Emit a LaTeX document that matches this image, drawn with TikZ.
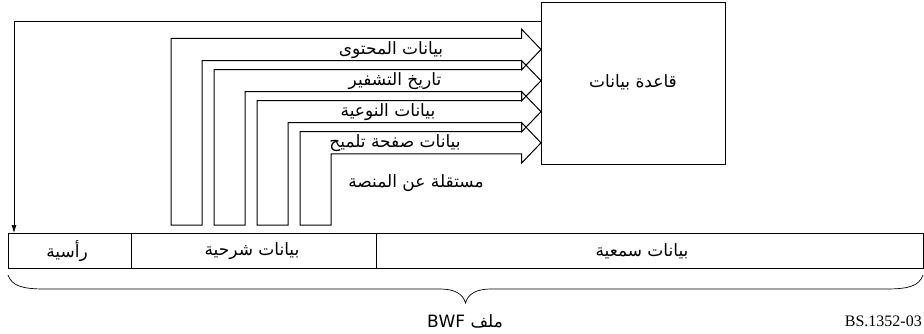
\documentclass[tikz,border=0pt]{standalone}
\usepackage{fontspec}
\TeXXeTstate=1
\newfontfamily\arabicfont[Script=Arabic]{DejaVu Sans}
\newfontfamily\refserif{Liberation Serif}
\usetikzlibrary{arrows.meta}
\newcommand\fatarr[4]{%
 \pgfmathsetmacro\fa{#3-9}\pgfmathsetmacro\fb{#4+9}\pgfmathsetmacro\fc{(#3+#4)/2}%
 \draw[fat] (#1,225) -- (#1,#3) -- (521.7,#3) -- (521.7,\fa) -- (db.west |- 0,\fc) -- (521.7,\fb) -- (521.7,#4) -- (#2,#4) -- (#2,225) -- cycle;}
\begin{document}
\begin{tikzpicture}[x=1pt,y=-1pt,
  box/.style={draw, line width=0.9pt, inner sep=0pt, anchor=north west},
  lbl/.style={font=\arabicfont\fontsize{17}{20}\selectfont, inner sep=0pt},
  fat/.style={draw, line width=1pt, line join=miter},
  conn/.style={draw, line width=0.7pt, -{Latex[length=8pt,width=5pt]}},
  bracestyle/.style={draw, line width=0.7pt}]
\useasboundingbox (0,0) rectangle (924,334);
% database
\node[box, minimum width=184pt, minimum height=162pt] (db) at (541,2) {};
\node[lbl] (dbl) at (633,82) {\beginR قاعدة بيانات\endR};
% file bar
\node[box, minimum width=122.7pt, minimum height=35pt] (hdr) at (8,233) {};
\node[box, minimum width=245pt, minimum height=35pt] (meta) at (130.7,233) {};
\node[box, minimum width=547.3pt, minimum height=35pt] (aud) at (375.7,233) {};
\node[lbl] (hdrl) at (67,251) {\beginR رأسية\endR};
\node[lbl] (metal) at (252,251) {\beginR بيانات شرحية\endR};
\node[lbl] (audl) at (642,251) {\beginR بيانات سمعية\endR};
% connector from database to header
\draw[conn] (db.west |- 0,21) -| ([xshift=6pt]hdr.north west);
% fat arrows
\fatarr{171}{202}{38.3}{60.7}
\fatarr{214}{245}{69.7}{91.7}
\fatarr{257}{288}{100.7}{122.7}
\fatarr{300}{331}{131.7}{154}
% labels
\node[lbl] (l1) at (391,50) {\beginR بيانات المحتوى\endR};
\node[lbl] (l2) at (395,81) {\beginR تاريخ التشفير\endR};
\node[lbl] (l3) at (388,112) {\beginR بيانات النوعية\endR};
\node[lbl] (l4) at (395,143) {\beginR بيانات صفحة تلميح\endR};
\node[lbl] (l5) at (416,183) {\beginR مستقلة عن المنصة\endR};
% brace
\draw[bracestyle] (8,275) .. controls (12,286) and (22,289) .. (45,289) -- (440,289) .. controls (455,289) and (463,294) .. (465.5,303) .. controls (468,294) and (476,289) .. (491,289) -- (886,289) .. controls (909,289) and (919,286) .. (923,275);
\node[lbl] (bwf) at (465,321) {\beginR ملف \beginL BWF\endL\endR};
\node[font=\refserif\fontsize{16}{18}\selectfont, anchor=east, inner sep=0pt] (ref) at (922,321) {BS.1352-03};
\end{tikzpicture}
\end{document}
